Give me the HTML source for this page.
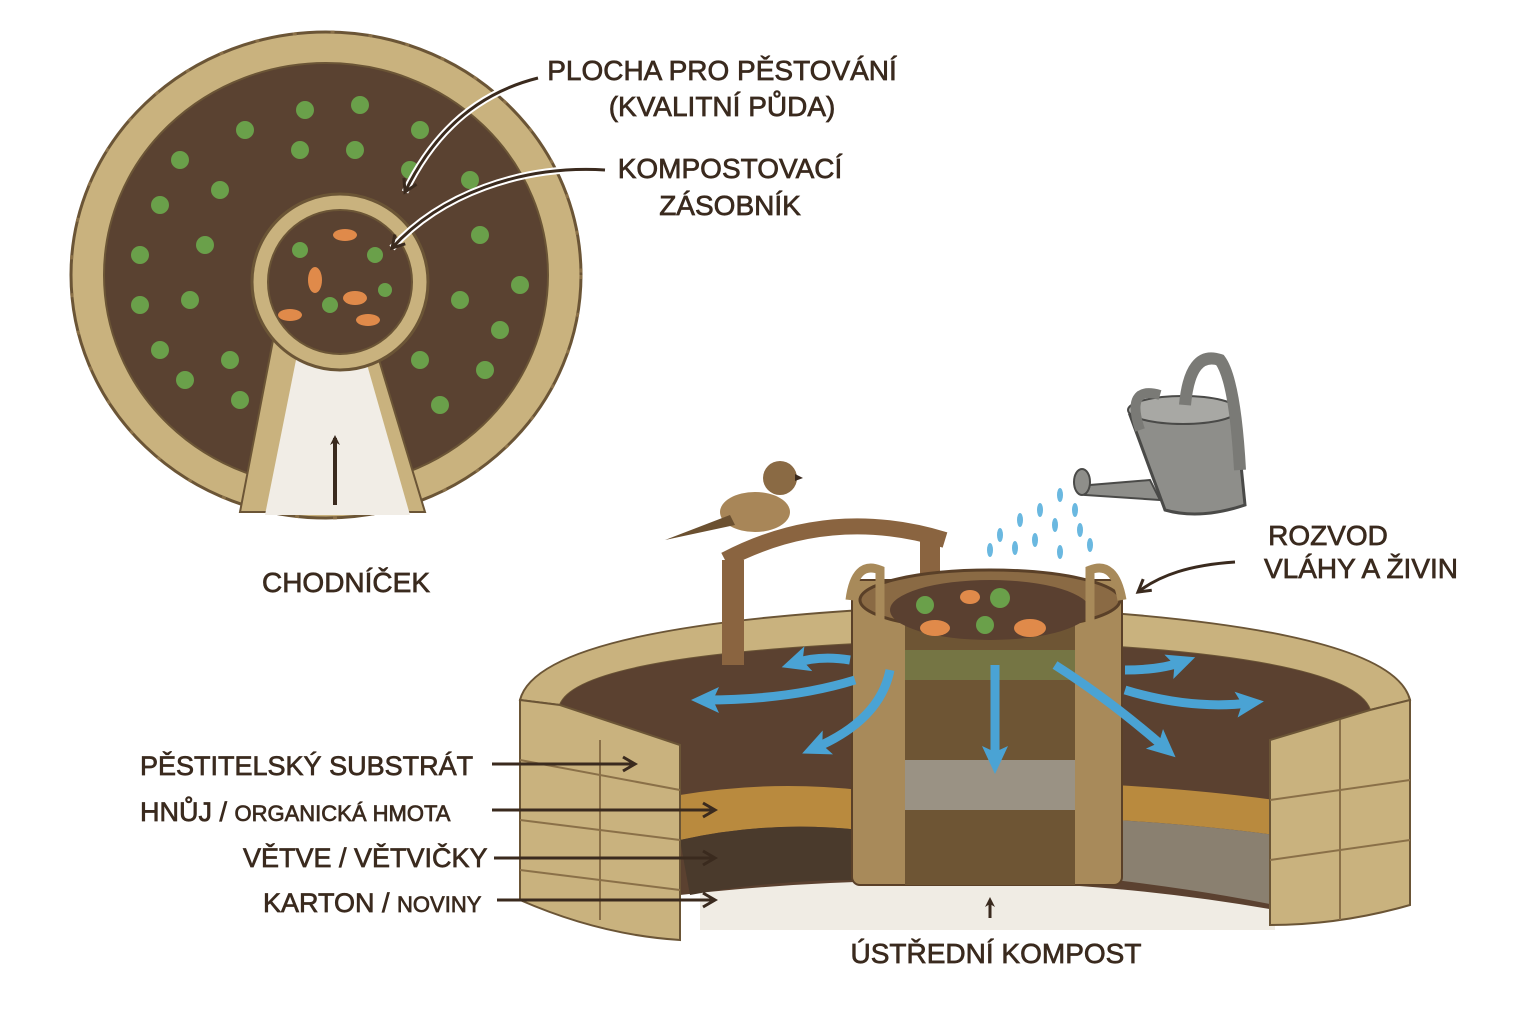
<!DOCTYPE html>
<html><head><meta charset="utf-8"><style>
html,body{margin:0;padding:0;background:#fff;}
svg{display:block}
text{font-family:"Liberation Sans","DejaVu Sans",sans-serif;fill:#3a2a1e;stroke:#3a2a1e;stroke-width:0.7;}
</style></head><body>
<svg width="1536" height="1024" viewBox="0 0 1536 1024" xmlns="http://www.w3.org/2000/svg">
<defs>
<marker id="ah" markerWidth="10" markerHeight="10" refX="7" refY="5" orient="auto" markerUnits="userSpaceOnUse"><path d="M0,0 L10,5 L0,10 L3,5z" fill="#3a2a1e"/></marker>
<marker id="ow" markerWidth="18" markerHeight="18" refX="14" refY="9" orient="auto" markerUnits="userSpaceOnUse"><path d="M2,2 L14,9 L2,16" fill="none" stroke="#3a2a1e" stroke-width="3"/></marker>
<marker id="bl" markerWidth="30" markerHeight="30" refX="14" refY="15" orient="auto" markerUnits="userSpaceOnUse"><path d="M0,2 L28,15 L0,28 L6,15z" fill="#4aa3d4"/></marker>
</defs>

<!-- TOP KEYHOLE -->
<ellipse cx="326" cy="275" rx="255" ry="243" fill="#c9b27e" stroke="#6b5536" stroke-width="3"/>
<ellipse cx="326" cy="275" rx="255" ry="243" fill="none" stroke="#8a7048" stroke-width="3" stroke-dasharray="4 34"/>
<ellipse cx="326" cy="275" rx="222" ry="212" fill="#5a4231" stroke="#6b5536" stroke-width="2"/>
<g fill="#6aa04a">
<circle cx="180" cy="160" r="9"/><circle cx="245" cy="130" r="9"/><circle cx="305" cy="110" r="9"/><circle cx="360" cy="105" r="9"/><circle cx="420" cy="130" r="9"/>
<circle cx="160" cy="205" r="9"/><circle cx="220" cy="190" r="9"/><circle cx="300" cy="150" r="9"/><circle cx="355" cy="150" r="9"/><circle cx="410" cy="170" r="9"/><circle cx="470" cy="180" r="9"/>
<circle cx="140" cy="255" r="9"/><circle cx="205" cy="245" r="9"/><circle cx="480" cy="235" r="9"/><circle cx="520" cy="285" r="9"/>
<circle cx="140" cy="305" r="9"/><circle cx="190" cy="300" r="9"/><circle cx="460" cy="300" r="9"/><circle cx="500" cy="330" r="9"/>
<circle cx="160" cy="350" r="9"/><circle cx="230" cy="360" r="9"/><circle cx="420" cy="360" r="9"/><circle cx="485" cy="370" r="9"/>
<circle cx="185" cy="380" r="9"/><circle cx="440" cy="405" r="9"/><circle cx="240" cy="400" r="9"/>
</g>
<path d="M275,330 L240,512 L425,512 L370,330z" fill="#c9b27e" stroke="#6b5536" stroke-width="2"/>
<path d="M300,340 L265,515 L410,515 L360,340z" fill="#f1ede6"/>
<circle cx="340" cy="282" r="88" fill="#c9b27e" stroke="#6b5536" stroke-width="3"/>
<circle cx="340" cy="282" r="72" fill="#5a4231" stroke="#6b5536" stroke-width="2"/>
<g fill="#e08a4a"><ellipse cx="345" cy="235" rx="12" ry="6"/><ellipse cx="315" cy="280" rx="7" ry="13"/><ellipse cx="355" cy="298" rx="12" ry="7"/><ellipse cx="290" cy="315" rx="12" ry="6"/><ellipse cx="368" cy="320" rx="12" ry="6"/></g>
<g fill="#6aa04a"><circle cx="300" cy="250" r="8"/><circle cx="375" cy="255" r="8"/><circle cx="330" cy="305" r="8"/><circle cx="385" cy="290" r="7"/></g>
<line x1="335" y1="505" x2="335" y2="438" stroke="#3a2a1e" stroke-width="4" marker-end="url(#ah)"/>

<path d="M538,78 C470,95 430,140 405,192" fill="none" stroke="#fff" stroke-width="7"/>
<path d="M538,78 C470,95 430,140 405,192" fill="none" stroke="#3a2a1e" stroke-width="3" marker-end="url(#ow)"/>
<path d="M605,170 C520,165 440,195 392,248" fill="none" stroke="#fff" stroke-width="7"/>
<path d="M605,170 C520,165 440,195 392,248" fill="none" stroke="#3a2a1e" stroke-width="3" marker-end="url(#ow)"/>

<g font-size="28" text-anchor="middle">
<text x="722" y="80">PLOCHA PRO PĚSTOVÁNÍ</text>
<text x="722" y="116">(KVALITNÍ PŮDA)</text>
<text x="730" y="178">KOMPOSTOVACÍ</text>
<text x="730" y="215">ZÁSOBNÍK</text>
<text x="346" y="592">CHODNÍČEK</text>
<text x="1328" y="545">ROZVOD</text>
<text x="1361" y="578">VLÁHY A ŽIVIN</text>
<text x="996" y="963">ÚSTŘEDNÍ KOMPOST</text>
</g>
<g font-size="27">
<text x="140" y="775">PĚSTITELSKÝ SUBSTRÁT</text>
<text x="140" y="821">HNŮJ / <tspan font-size="22">ORGANICKÁ HMOTA</tspan></text>
<text x="243" y="867">VĚTVE / VĚTVIČKY</text>
<text x="263" y="912">KARTON / <tspan font-size="22">NOVINY</tspan></text>
</g>

<!-- BED -->
<path d="M700,880 Q990,860 1275,900 L1275,930 L700,930z" fill="#f0ece4"/>
<path d="M520,700 Q540,620 965,605 Q1390,620 1410,700 L1370,710 Q1350,650 965,640 Q580,650 560,705z" fill="#c9b27e" stroke="#6b5536" stroke-width="2"/>
<path d="M560,705 Q580,650 965,640 Q1350,650 1370,710 L1275,740 L1275,910 Q990,860 680,895 L680,745z" fill="#5b4130"/>
<path d="M680,795 Q770,780 860,790 L860,830 Q770,820 680,840z" fill="#b98a3e"/>
<path d="M1115,785 Q1200,790 1275,800 L1275,835 Q1200,825 1115,820z" fill="#b98a3e"/>
<path d="M680,840 Q770,820 860,830 L860,880 Q770,880 690,895z" fill="#4a3a2c"/>
<path d="M1115,820 Q1200,825 1275,835 L1275,905 Q1200,890 1115,880z" fill="#8a8070"/>
<path d="M520,700 L560,705 L680,745 L680,940 Q600,935 520,900z" fill="#c9b27e" stroke="#6b5536" stroke-width="2"/>
<path d="M1270,740 L1370,710 L1410,700 L1410,905 Q1340,925 1270,925z" fill="#c9b27e" stroke="#6b5536" stroke-width="2"/>
<g stroke="#8a7048" stroke-width="2" fill="none">
<path d="M520,760 L680,790 M520,820 L680,840 M520,870 L680,890 M600,740 L600,920 M1270,800 L1410,780 M1270,860 L1410,840 M1340,720 L1340,920"/>
</g>
<!-- arch -->
<path d="M725,560 Q830,505 945,540" fill="none" stroke="#8a6440" stroke-width="16"/>
<rect x="722" y="560" width="22" height="105" fill="#8a6440"/>
<rect x="920" y="540" width="20" height="40" fill="#8a6440"/>
<!-- bird -->
<ellipse cx="755" cy="512" rx="35" ry="20" fill="#a88658"/>
<circle cx="780" cy="478" r="17" fill="#8a6a44"/>
<path d="M730,515 L665,540 L735,525z" fill="#6b5030"/>
<path d="M795,474 L803,478 L795,481z" fill="#3a2a1e"/>
<!-- basket -->
<rect x="852" y="580" width="270" height="305" rx="8" fill="#a88a5a" stroke="#5a4028" stroke-width="2"/>
<rect x="905" y="595" width="170" height="290" fill="#6e5534"/>
<ellipse cx="990" cy="600" rx="130" ry="30" fill="#8a6a44" stroke="#5a4028" stroke-width="3"/>
<ellipse cx="990" cy="610" rx="100" ry="30" fill="#5a4030"/>
<rect x="905" y="650" width="170" height="30" fill="#7a8a50" opacity=".6"/>
<rect x="905" y="760" width="170" height="50" fill="#9a9284"/>
<g fill="#e08a4a"><ellipse cx="935" cy="628" rx="15" ry="8"/><ellipse cx="1030" cy="628" rx="16" ry="9"/><ellipse cx="970" cy="597" rx="10" ry="7"/></g>
<g fill="#6aa04a"><circle cx="925" cy="605" r="9"/><circle cx="1000" cy="598" r="10"/><circle cx="985" cy="625" r="9"/></g>
<path d="M850,600 Q855,560 880,570 L880,650" fill="none" stroke="#a88a5a" stroke-width="9"/>
<path d="M1122,600 Q1115,560 1090,570 L1090,650" fill="none" stroke="#a88a5a" stroke-width="9"/>
<g stroke="#4aa3d4" stroke-width="9" fill="none">
<path d="M850,660 Q820,655 795,663" marker-end="url(#bl)"/>
<path d="M855,680 Q790,700 705,700" marker-end="url(#bl)"/>
<path d="M890,670 Q880,720 815,748" marker-end="url(#bl)"/>
<path d="M995,665 L995,760" marker-end="url(#bl)"/>
<path d="M1055,665 Q1110,700 1165,748" marker-end="url(#bl)"/>
<path d="M1125,670 Q1160,670 1182,662" marker-end="url(#bl)"/>
<path d="M1125,690 Q1190,710 1250,703" marker-end="url(#bl)"/>
</g>
<!-- label connectors -->
<g stroke="#3a2a1e" stroke-width="3" fill="none">
<line x1="492" y1="764" x2="635" y2="764" marker-end="url(#ow)"/>
<line x1="492" y1="810" x2="715" y2="810" marker-end="url(#ow)"/>
<line x1="494" y1="858" x2="715" y2="858" marker-end="url(#ow)"/>
<line x1="497" y1="900" x2="715" y2="900" marker-end="url(#ow)"/>
<path d="M1235,562 C1190,565 1160,575 1138,592" marker-end="url(#ow)"/>
<line x1="990" y1="918" x2="990" y2="900" marker-end="url(#ah)"/>
</g>
<!-- watering can -->
<path d="M1130,415 L1235,405 L1245,505 Q1200,520 1165,510z" fill="#8e8e8a" stroke="#4a4a48" stroke-width="3"/>
<ellipse cx="1183" cy="410" rx="55" ry="14" fill="#a8a8a4" stroke="#4a4a48" stroke-width="2"/>
<path d="M1185,405 Q1190,350 1220,360 Q1235,380 1240,470" fill="none" stroke="#7a7a76" stroke-width="12"/>
<path d="M1140,430 Q1125,385 1160,395" fill="none" stroke="#7a7a76" stroke-width="10"/>
<path d="M1150,480 L1090,485 L1085,495 L1160,500z" fill="#8e8e8a" stroke="#4a4a48" stroke-width="2"/>
<ellipse cx="1082" cy="482" rx="8" ry="13" fill="#8e8e8a" stroke="#4a4a48" stroke-width="2"/>
<g fill="#6ab8e0"><ellipse cx="1060" cy="495" rx="3" ry="7"/><ellipse cx="1040" cy="510" rx="3" ry="7"/><ellipse cx="1075" cy="510" rx="3" ry="7"/><ellipse cx="1020" cy="520" rx="3" ry="7"/><ellipse cx="1055" cy="525" rx="3" ry="7"/><ellipse cx="1000" cy="535" rx="3" ry="7"/><ellipse cx="1035" cy="540" rx="3" ry="7"/><ellipse cx="1080" cy="530" rx="3" ry="7"/><ellipse cx="990" cy="550" rx="3" ry="7"/><ellipse cx="1015" cy="548" rx="3" ry="7"/><ellipse cx="1060" cy="552" rx="3" ry="7"/><ellipse cx="1090" cy="545" rx="3" ry="7"/></g>
</svg>
</body></html>
